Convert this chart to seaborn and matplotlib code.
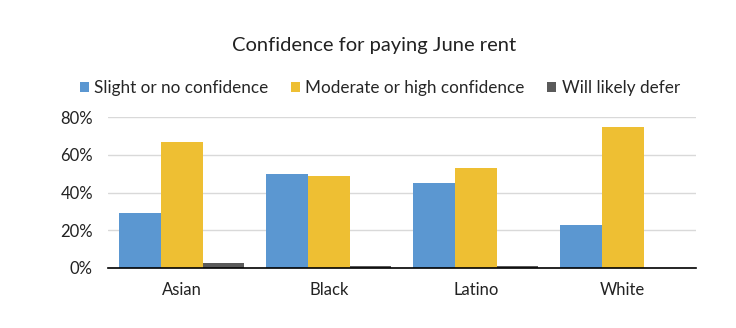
import matplotlib
matplotlib.use("Agg")
import matplotlib.pyplot as plt
import seaborn as sns
import pandas as pd
from matplotlib.ticker import PercentFormatter

categories = ["Asian", "Black", "Latino", "White"]
series_names = ["Slight or no confidence", "Moderate or high confidence", "Will likely defer"]
slight = [29, 50, 45, 23]
moderate = [67, 49, 53, 75]
defer = [2.5, 1, 1, 0]
colors = ["#5B97D1", "#EEBF33", "#5A5A5A"]

rows = []
for name, vals in zip(series_names, [slight, moderate, defer]):
    for c, v in zip(categories, vals):
        rows.append({"group": c, "series": name, "value": v})
df = pd.DataFrame(rows)

sns.set_theme(style="white")
plt.rcParams['font.family'] = ['Lato', 'DejaVu Sans']

fig = plt.figure(figsize=(7.36, 3.28), dpi=100)
ax = fig.add_axes([0.147, 0.183, 0.799, 0.460])

sns.barplot(data=df, x="group", y="value", hue="series", palette=colors,
            order=categories, hue_order=series_names, width=0.85,
            saturation=1, ax=ax, zorder=3, edgecolor="none")

ax.set_ylim(0, 80)
ax.set_yticks([0, 20, 40, 60, 80])
ax.yaxis.set_major_formatter(PercentFormatter(decimals=0))
ax.grid(axis="y", color="#D9D9D9", linewidth=1, zorder=0)
ax.set_axisbelow(True)
for s in ["top", "right", "left"]:
    ax.spines[s].set_visible(False)
ax.spines["bottom"].set_color("black")
ax.spines["bottom"].set_linewidth(1.2)
ax.spines["bottom"].set_zorder(5)
ax.set_xlabel("")
ax.set_ylabel("")
ax.tick_params(axis="both", length=0, labelsize=12, colors="#222222")
ax.tick_params(axis="x", pad=10)
ax.tick_params(axis="y", pad=11)

handles, labels = ax.get_legend_handles_labels()
ax.legend_.remove()
fig.legend(handles, labels, loc="center", bbox_to_anchor=(0.516, 0.732), ncol=3,
           frameon=False, fontsize=12.3, handlelength=0.55, handleheight=0.55,
           handletextpad=0.3, columnspacing=1.3)
fig.text(0.508, 0.862, "Confidence for paying June rent", ha="center", va="center",
         fontsize=14.5, color="#222222")

fig.savefig("out.png", dpi=100)
